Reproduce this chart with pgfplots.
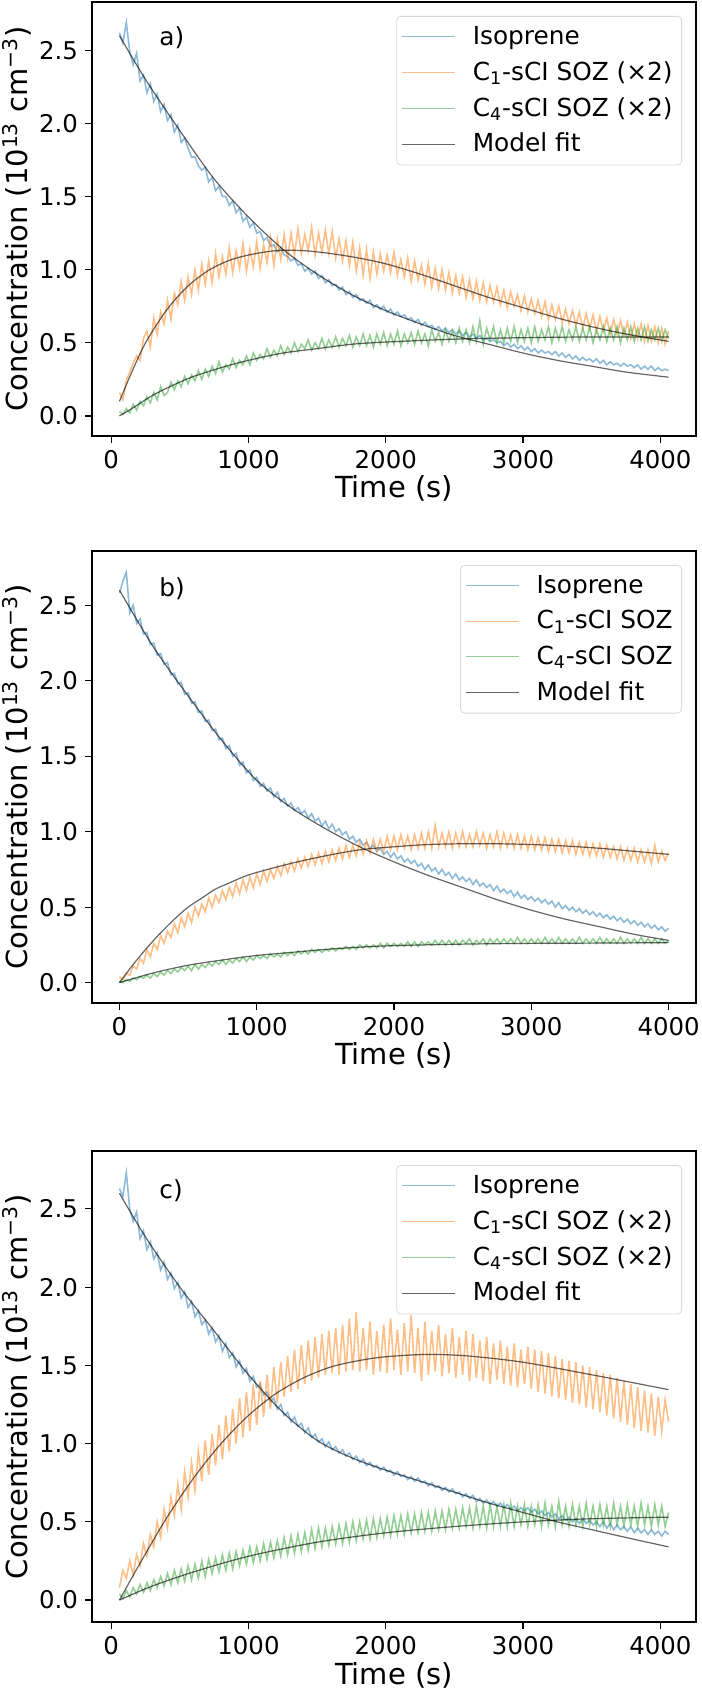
\documentclass[border=0pt]{standalone}
\usepackage{fontspec}
\setmainfont{DejaVu Sans}
\usepackage{pgfplots}
\usepackage{pgfplotstable}
\pgfplotsset{compat=1.18}

\definecolor{tabblue}{RGB}{31,119,180}
\definecolor{taborange}{RGB}{255,127,14}
\definecolor{tabgreen}{RGB}{44,160,44}

% Measured concentrations (1e13 cm^-3); SOZ columns already scaled as labelled
\pgfplotstableread{
t iso cone cfour
60 2.62 0.16 0.03
85 2.55 0.11 0.01
110 2.69 0.24 0.05
135 2.49 0.30 0.02
160 2.40 0.36 0.08
185 2.48 0.41 0.04
210 2.29 0.38 0.10
235 2.33 0.53 0.07
260 2.21 0.58 0.13
285 2.27 0.47 0.09
310 2.15 0.67 0.16
335 2.20 0.56 0.11
360 2.08 0.71 0.20
385 2.13 0.63 0.14
410 2.02 0.79 0.16
435 2.06 0.66 0.23
460 1.94 0.84 0.18
485 1.99 0.76 0.24
510 1.87 0.92 0.20
535 1.90 0.79 0.27
560 1.83 0.95 0.22
585 1.77 0.83 0.28
610 1.77 1.00 0.24
635 1.71 0.86 0.31
660 1.68 1.04 0.25
685 1.70 0.90 0.32
710 1.60 1.06 0.27
735 1.63 0.91 0.34
760 1.54 1.11 0.29
785 1.57 0.95 0.37
810 1.50 1.09 0.30
835 1.50 0.97 0.35
860 1.44 1.15 0.32
885 1.47 0.98 0.39
910 1.39 1.13 0.33
935 1.42 1.01 0.38
960 1.33 1.18 0.35
985 1.36 0.99 0.41
1010 1.29 1.14 0.35
1035 1.32 1.02 0.43
1060 1.25 1.19 0.38
1085 1.26 1.01 0.42
1110 1.20 1.17 0.39
1135 1.22 1.05 0.46
1160 1.16 1.22 0.40
1185 1.17 1.03 0.45
1210 1.12 1.21 0.41
1235 1.15 1.07 0.48
1260 1.10 1.24 0.42
1285 1.09 1.08 0.47
1310 1.06 1.25 0.43
1335 1.08 1.10 0.50
1360 1.03 1.28 0.44
1385 1.04 1.11 0.49
1410 0.99 1.24 0.46
1435 1.01 1.13 0.52
1460 0.97 1.29 0.45
1485 0.99 1.10 0.50
1510 0.94 1.25 0.46
1535 0.96 1.12 0.53
1560 0.91 1.27 0.46
1585 0.93 1.11 0.52
1610 0.89 1.26 0.47
1635 0.90 1.08 0.54
1660 0.86 1.21 0.47
1685 0.88 1.06 0.53
1710 0.83 1.20 0.48
1735 0.85 1.03 0.55
1760 0.81 1.19 0.47
1785 0.83 0.99 0.54
1810 0.79 1.15 0.48
1835 0.80 0.96 0.56
1860 0.77 1.14 0.48
1885 0.79 0.94 0.55
1910 0.74 1.12 0.47
1935 0.76 0.97 0.56
1960 0.73 1.11 0.49
1985 0.75 0.99 0.57
2010 0.71 1.10 0.48
2035 0.73 0.98 0.56
2060 0.69 1.12 0.49
2085 0.71 0.96 0.58
2110 0.68 1.07 0.48
2135 0.69 0.95 0.56
2160 0.66 1.08 0.50
2185 0.67 0.92 0.57
2210 0.64 1.06 0.49
2235 0.66 0.93 0.58
2260 0.62 1.03 0.50
2285 0.64 0.90 0.56
2310 0.61 1.04 0.48
2335 0.62 0.88 0.59
2360 0.59 1.01 0.51
2385 0.61 0.87 0.57
2410 0.58 1.00 0.49
2435 0.60 0.86 0.59
2460 0.57 0.98 0.51
2485 0.59 0.84 0.58
2510 0.56 0.96 0.50
2535 0.58 0.84 0.60
2560 0.55 0.95 0.51
2585 0.57 0.81 0.59
2610 0.54 0.93 0.50
2635 0.56 0.80 0.61
2660 0.53 0.92 0.51
2685 0.55 0.79 0.65
2710 0.52 0.91 0.49
2735 0.53 0.78 0.60
2760 0.51 0.89 0.52
2785 0.52 0.78 0.61
2810 0.50 0.88 0.50
2835 0.51 0.76 0.59
2860 0.48 0.86 0.50
2885 0.50 0.74 0.60
2910 0.47 0.85 0.51
2935 0.49 0.75 0.61
2960 0.46 0.83 0.50
2985 0.48 0.72 0.59
3010 0.45 0.82 0.51
3035 0.47 0.71 0.60
3060 0.44 0.80 0.50
3085 0.46 0.70 0.61
3110 0.43 0.79 0.51
3135 0.45 0.68 0.59
3160 0.43 0.78 0.52
3185 0.44 0.66 0.61
3210 0.42 0.76 0.50
3235 0.44 0.66 0.60
3260 0.41 0.75 0.52
3285 0.43 0.64 0.61
3310 0.40 0.73 0.51
3335 0.42 0.63 0.59
3360 0.39 0.72 0.52
3385 0.41 0.62 0.61
3410 0.38 0.71 0.51
3435 0.40 0.60 0.60
3460 0.38 0.70 0.52
3485 0.39 0.60 0.61
3510 0.37 0.69 0.50
3535 0.39 0.58 0.59
3560 0.36 0.68 0.52
3585 0.38 0.58 0.61
3610 0.35 0.67 0.51
3635 0.37 0.56 0.60
3660 0.35 0.66 0.52
3685 0.36 0.56 0.61
3710 0.34 0.65 0.50
3735 0.36 0.55 0.60
3760 0.34 0.64 0.52
3785 0.35 0.53 0.61
3810 0.33 0.63 0.51
3835 0.35 0.53 0.60
3860 0.32 0.63 0.52
3885 0.34 0.51 0.61
3910 0.32 0.62 0.51
3935 0.34 0.51 0.59
3960 0.31 0.61 0.52
3985 0.33 0.50 0.60
4010 0.31 0.60 0.51
4035 0.32 0.49 0.59
4060 0.31 0.58 0.53
}\dataA

\pgfplotstableread{
t iso cone cfour
0 2.58 0.04 0.01
25 2.66 0.02 0.00
50 2.72 0.06 0.02
75 2.45 0.05 0.01
100 2.50 0.11 0.03
125 2.38 0.09 0.02
150 2.41 0.16 0.04
175 2.31 0.13 0.03
200 2.32 0.22 0.05
225 2.24 0.17 0.03
250 2.25 0.26 0.06
275 2.17 0.22 0.04
300 2.18 0.31 0.07
325 2.11 0.26 0.05
350 2.12 0.34 0.08
375 2.04 0.30 0.06
400 2.05 0.39 0.09
425 1.98 0.33 0.07
450 1.99 0.43 0.10
475 1.91 0.37 0.08
500 1.92 0.46 0.11
525 1.85 0.40 0.08
550 1.86 0.50 0.12
575 1.79 0.44 0.09
600 1.80 0.52 0.12
625 1.73 0.47 0.10
650 1.74 0.56 0.13
675 1.67 0.50 0.11
700 1.68 0.58 0.14
725 1.61 0.53 0.12
750 1.62 0.61 0.15
775 1.55 0.55 0.12
800 1.57 0.63 0.15
825 1.50 0.57 0.13
850 1.52 0.66 0.16
875 1.44 0.59 0.14
900 1.46 0.68 0.17
925 1.39 0.61 0.14
950 1.41 0.70 0.17
975 1.34 0.63 0.15
1000 1.36 0.72 0.18
1025 1.30 0.65 0.16
1050 1.32 0.74 0.18
1075 1.27 0.67 0.16
1100 1.29 0.75 0.19
1125 1.23 0.69 0.17
1150 1.26 0.77 0.19
1175 1.20 0.71 0.17
1200 1.22 0.79 0.20
1225 1.17 0.73 0.18
1250 1.19 0.80 0.20
1275 1.14 0.74 0.18
1300 1.16 0.82 0.21
1325 1.12 0.76 0.19
1350 1.14 0.83 0.21
1375 1.09 0.77 0.19
1400 1.12 0.85 0.22
1425 1.07 0.78 0.20
1450 1.09 0.86 0.22
1475 1.04 0.79 0.20
1500 1.07 0.87 0.22
1525 1.02 0.80 0.21
1550 1.05 0.88 0.23
1575 1.00 0.81 0.21
1600 1.02 0.89 0.23
1625 0.98 0.82 0.22
1650 1.00 0.91 0.24
1675 0.95 0.83 0.22
1700 0.97 0.91 0.24
1725 0.93 0.84 0.22
1750 0.95 0.93 0.25
1775 0.91 0.85 0.23
1800 0.93 0.94 0.25
1825 0.89 0.86 0.23
1850 0.91 0.95 0.25
1875 0.87 0.87 0.23
1900 0.89 0.95 0.26
1925 0.85 0.87 0.23
1950 0.87 0.97 0.26
1975 0.83 0.88 0.24
2000 0.86 0.97 0.26
2025 0.82 0.88 0.24
2050 0.84 0.98 0.26
2075 0.80 0.89 0.24
2100 0.82 0.97 0.27
2125 0.79 0.88 0.24
2150 0.81 0.98 0.27
2175 0.77 0.89 0.24
2200 0.79 0.99 0.27
2225 0.75 0.89 0.25
2250 0.78 1.00 0.27
2275 0.74 0.89 0.25
2300 0.76 1.04 0.28
2325 0.72 0.90 0.25
2350 0.75 0.99 0.28
2375 0.71 0.90 0.25
2400 0.73 1.00 0.28
2425 0.69 0.89 0.25
2450 0.72 0.99 0.28
2475 0.68 0.90 0.25
2500 0.70 1.00 0.28
2525 0.67 0.90 0.26
2550 0.69 0.98 0.29
2575 0.65 0.90 0.25
2600 0.68 1.00 0.28
2625 0.64 0.91 0.26
2650 0.66 0.99 0.29
2675 0.63 0.89 0.25
2700 0.65 0.98 0.29
2725 0.61 0.90 0.26
2750 0.64 1.00 0.29
2775 0.60 0.89 0.26
2800 0.62 0.99 0.29
2825 0.59 0.90 0.26
2850 0.61 0.98 0.29
2875 0.57 0.89 0.26
2900 0.60 0.98 0.30
2925 0.56 0.89 0.26
2950 0.58 0.97 0.29
2975 0.55 0.88 0.26
3000 0.57 0.97 0.29
3025 0.54 0.88 0.26
3050 0.56 0.96 0.29
3075 0.53 0.88 0.26
3100 0.55 0.96 0.30
3125 0.52 0.87 0.26
3150 0.54 0.95 0.29
3175 0.50 0.87 0.26
3200 0.53 0.95 0.30
3225 0.49 0.86 0.26
3250 0.51 0.94 0.29
3275 0.48 0.86 0.26
3300 0.50 0.94 0.29
3325 0.47 0.85 0.26
3350 0.49 0.93 0.30
3375 0.46 0.85 0.26
3400 0.48 0.93 0.29
3425 0.45 0.84 0.26
3450 0.47 0.92 0.29
3475 0.44 0.84 0.26
3500 0.46 0.92 0.30
3525 0.43 0.83 0.26
3550 0.45 0.91 0.29
3575 0.42 0.83 0.26
3600 0.44 0.90 0.29
3625 0.41 0.82 0.26
3650 0.43 0.90 0.30
3675 0.40 0.81 0.26
3700 0.42 0.89 0.29
3725 0.39 0.81 0.26
3750 0.41 0.89 0.29
3775 0.38 0.80 0.26
3800 0.40 0.88 0.30
3825 0.37 0.80 0.26
3850 0.39 0.88 0.29
3875 0.36 0.79 0.26
3900 0.38 0.91 0.29
3925 0.35 0.80 0.26
3950 0.37 0.87 0.29
3975 0.34 0.81 0.26
4000 0.36 0.86 0.28
}\dataB

\pgfplotstableread{
t iso cone cfour
60 2.63 0.08 0.04
85 2.58 0.19 0.01
110 2.73 0.14 0.06
135 2.50 0.25 0.02
160 2.42 0.16 0.08
185 2.48 0.29 0.04
210 2.31 0.22 0.10
235 2.36 0.36 0.05
260 2.24 0.28 0.11
285 2.29 0.42 0.06
310 2.18 0.34 0.13
335 2.22 0.50 0.08
360 2.11 0.40 0.15
385 2.16 0.58 0.09
410 2.05 0.46 0.17
435 2.09 0.66 0.10
460 1.99 0.54 0.19
485 2.03 0.74 0.11
510 1.93 0.58 0.20
535 1.97 0.82 0.12
560 1.87 0.66 0.22
585 1.91 0.88 0.13
610 1.81 0.70 0.23
635 1.85 0.95 0.14
660 1.76 0.76 0.25
685 1.79 1.02 0.15
710 1.70 0.80 0.26
735 1.74 1.06 0.17
760 1.65 0.86 0.27
785 1.69 1.12 0.18
810 1.59 0.90 0.29
835 1.64 1.18 0.19
860 1.55 0.95 0.30
885 1.58 1.22 0.20
910 1.49 1.00 0.31
935 1.53 1.29 0.22
960 1.45 1.04 0.32
985 1.48 1.33 0.23
1010 1.40 1.08 0.34
1035 1.43 1.38 0.24
1060 1.36 1.12 0.34
1085 1.38 1.40 0.25
1110 1.31 1.17 0.36
1135 1.33 1.44 0.26
1160 1.27 1.22 0.37
1185 1.29 1.49 0.27
1210 1.22 1.26 0.38
1235 1.25 1.52 0.28
1260 1.18 1.30 0.40
1285 1.20 1.56 0.29
1310 1.14 1.33 0.41
1335 1.17 1.60 0.30
1360 1.11 1.35 0.42
1385 1.13 1.63 0.31
1410 1.07 1.38 0.43
1435 1.10 1.66 0.32
1460 1.04 1.40 0.45
1485 1.06 1.68 0.33
1510 1.01 1.42 0.46
1535 1.03 1.70 0.34
1560 0.98 1.44 0.46
1585 1.01 1.72 0.35
1610 0.96 1.45 0.47
1635 0.98 1.74 0.36
1660 0.94 1.44 0.48
1685 0.96 1.76 0.36
1710 0.92 1.46 0.49
1735 0.94 1.80 0.37
1760 0.90 1.47 0.50
1785 0.92 1.84 0.38
1810 0.88 1.46 0.50
1835 0.90 1.74 0.39
1860 0.86 1.47 0.51
1885 0.88 1.78 0.39
1910 0.85 1.44 0.52
1935 0.86 1.72 0.40
1960 0.83 1.46 0.52
1985 0.85 1.76 0.41
2010 0.82 1.45 0.53
2035 0.83 1.80 0.41
2060 0.80 1.47 0.54
2085 0.82 1.73 0.42
2110 0.79 1.44 0.54
2135 0.80 1.77 0.42
2160 0.77 1.46 0.55
2185 0.79 1.82 0.43
2210 0.76 1.45 0.55
2235 0.78 1.74 0.43
2260 0.75 1.40 0.56
2285 0.76 1.78 0.44
2310 0.73 1.44 0.56
2335 0.75 1.72 0.44
2360 0.72 1.46 0.57
2385 0.73 1.76 0.45
2410 0.70 1.43 0.57
2435 0.72 1.70 0.45
2460 0.69 1.45 0.58
2485 0.71 1.74 0.46
2510 0.68 1.42 0.58
2535 0.69 1.68 0.46
2560 0.66 1.44 0.59
2585 0.68 1.72 0.47
2610 0.65 1.40 0.59
2635 0.67 1.70 0.46
2660 0.63 1.42 0.60
2685 0.65 1.66 0.47
2710 0.62 1.40 0.60
2735 0.64 1.68 0.46
2760 0.61 1.38 0.61
2785 0.63 1.64 0.47
2810 0.60 1.41 0.60
2835 0.62 1.66 0.47
2860 0.59 1.38 0.61
2885 0.61 1.62 0.47
2910 0.58 1.37 0.62
2935 0.60 1.64 0.47
2960 0.57 1.36 0.60
2985 0.59 1.60 0.48
3010 0.57 1.38 0.61
3035 0.59 1.62 0.47
3060 0.56 1.35 0.60
3085 0.58 1.60 0.48
3110 0.55 1.33 0.61
3135 0.57 1.59 0.47
3160 0.54 1.32 0.62
3185 0.56 1.58 0.48
3210 0.53 1.30 0.60
3235 0.55 1.56 0.47
3260 0.52 1.29 0.63
3285 0.54 1.54 0.48
3310 0.51 1.28 0.60
3335 0.53 1.53 0.47
3360 0.50 1.26 0.61
3385 0.52 1.52 0.48
3410 0.49 1.25 0.60
3435 0.52 1.50 0.47
3460 0.49 1.23 0.62
3485 0.51 1.49 0.48
3510 0.48 1.22 0.60
3535 0.50 1.47 0.47
3560 0.47 1.20 0.61
3585 0.50 1.45 0.48
3610 0.46 1.18 0.60
3635 0.49 1.44 0.47
3660 0.45 1.16 0.62
3685 0.48 1.42 0.48
3710 0.45 1.14 0.60
3735 0.47 1.40 0.47
3760 0.44 1.12 0.61
3785 0.47 1.38 0.48
3810 0.43 1.10 0.60
3835 0.46 1.36 0.47
3860 0.43 1.08 0.62
3885 0.45 1.34 0.48
3910 0.42 1.07 0.60
3935 0.45 1.32 0.47
3960 0.42 1.05 0.61
3985 0.44 1.30 0.48
4010 0.41 1.08 0.60
4035 0.44 1.28 0.47
4060 0.42 1.14 0.56
}\dataC

\pgfplotsset{
  panel/.style={
    scale only axis, width=302pt,
    axis line style={line width=0.7pt},
    tick pos=left, tick align=outside,
    major tick length=3.5pt,
    every tick/.style={black, line width=0.6pt},
    xtick={0,1000,2000,3000,4000},
    ytick={0,0.5,1,1.5,2,2.5},
    /pgf/number format/assume math mode=true,
    x tick label style={/pgf/number format/1000 sep={}},
    y tick label style={/pgf/number format/fixed, /pgf/number format/fixed zerofill, /pgf/number format/precision=1},
    tick label style={font=\fontsize{12.2}{14}\selectfont},
    xlabel={Time (s)},
    ylabel={Concentration (10\textsuperscript{13} cm\textsuperscript{−3})},
    label style={font=\fontsize{14.5}{17}\selectfont},
    xlabel style={at={(axis description cs:0.5,0)}, anchor=base, yshift=-31pt},
    ylabel style={at={(axis description cs:-0.106,0.5)}, anchor=base},
    legend cell align=left,
    legend image code/.code={\draw[##1, line width=0.5pt] (0pt,0pt) -- (26.5pt,0pt);},
    legend style={at={(rel axis cs:1,1)}, anchor=north east,
      xshift=-7pt, yshift=-7pt,
      draw=black!15, rounded corners=2pt,
      fill=white, fill opacity=0.8, draw opacity=1, text opacity=1,
      font=\fontsize{12.4}{14}\selectfont,
      inner xsep=2.5pt, inner ysep=3pt, row sep=3pt,
      nodes={inner sep=2pt},
      /tikz/every odd column/.append style={column sep=6.5pt}},
  },
  isodata/.style={tabblue, opacity=0.5, line width=0.8pt},
  c1data/.style={taborange, opacity=0.5, line width=0.8pt},
  c4data/.style={tabgreen, opacity=0.5, line width=0.8pt},
  fit/.style={black, opacity=0.6, line width=0.6pt, smooth},
}

\begin{document}
\begin{tikzpicture}
\useasboundingbox (0,0) rectangle (350.5pt,845pt);

% ---------- a) ----------
\begin{axis}[panel, height=217pt, at={(46pt,627pt)}, anchor=south west,
  xmin=-140, xmax=4260, ymin=-0.137, ymax=2.83]
\addplot[isodata] table[x=t, y=iso] {\dataA};
\addlegendentry{Isoprene}
\addplot[c1data] table[x=t, y=cone] {\dataA};
\addlegendentry{C\textsubscript{1}-sCI SOZ (×2)}
\addplot[c4data] table[x=t, y=cfour] {\dataA};
\addlegendentry{C\textsubscript{4}-sCI SOZ (×2)}
\addplot[fit] coordinates {(60,2.60)(250,2.30)(500,1.95)(750,1.62)(1000,1.36)(1250,1.14)(1500,0.97)(1750,0.83)(2000,0.72)(2250,0.63)(2500,0.55)(2750,0.49)(3000,0.43)(3250,0.38)(3500,0.34)(3750,0.30)(4060,0.265)};
\addlegendentry{Model fit}
\addplot[fit, forget plot] coordinates {(60,0.10)(150,0.30)(250,0.50)(400,0.72)(550,0.88)(700,0.99)(850,1.06)(1000,1.10)(1200,1.13)(1400,1.13)(1600,1.11)(1800,1.08)(2000,1.04)(2250,0.97)(2500,0.89)(2750,0.81)(3000,0.74)(3250,0.67)(3500,0.61)(3750,0.56)(4060,0.51)};
\addplot[fit, forget plot] coordinates {(60,0.0)(150,0.05)(300,0.14)(450,0.21)(600,0.27)(800,0.33)(1000,0.38)(1250,0.43)(1500,0.46)(1750,0.49)(2000,0.505)(2500,0.525)(3000,0.535)(3500,0.54)(4060,0.54)};
\node[anchor=base west, font=\fontsize{12.4}{14}\selectfont] at (rel axis cs:0.1,0.9) {a)};
\end{axis}

% ---------- b) ----------
\begin{axis}[panel, height=226pt, at={(46pt,343.5pt)}, anchor=south west,
  xmin=-200, xmax=4200, ymin=-0.135, ymax=2.86]
\addplot[isodata] table[x=t, y=iso] {\dataB};
\addlegendentry{Isoprene}
\addplot[c1data] table[x=t, y=cone] {\dataB};
\addlegendentry{C\textsubscript{1}-sCI SOZ}
\addplot[c4data] table[x=t, y=cfour] {\dataB};
\addlegendentry{C\textsubscript{4}-sCI SOZ}
\addplot[fit] coordinates {(0,2.60)(250,2.22)(500,1.90)(750,1.60)(1000,1.34)(1250,1.16)(1500,1.02)(1750,0.90)(2000,0.80)(2250,0.71)(2500,0.63)(2750,0.55)(3000,0.48)(3250,0.42)(3500,0.37)(3750,0.32)(4000,0.28)};
\addlegendentry{Model fit}
\addplot[fit, forget plot] coordinates {(0,0)(100,0.12)(200,0.23)(300,0.33)(400,0.42)(500,0.50)(600,0.56)(700,0.62)(800,0.66)(900,0.70)(1000,0.73)(1250,0.79)(1500,0.84)(1750,0.88)(2000,0.90)(2250,0.915)(2500,0.92)(2750,0.92)(3000,0.915)(3250,0.905)(3500,0.89)(3750,0.87)(4000,0.85)};
\addplot[fit, forget plot] coordinates {(0,0)(250,0.065)(500,0.115)(750,0.15)(1000,0.18)(1250,0.20)(1500,0.22)(1750,0.235)(2000,0.245)(2500,0.255)(3000,0.26)(3500,0.262)(4000,0.265)};
\node[anchor=base west, font=\fontsize{12.4}{14}\selectfont] at (rel axis cs:0.1,0.9) {b)};
\end{axis}

% ---------- c) ----------
\begin{axis}[panel, height=235.5pt, at={(46pt,34pt)}, anchor=south west,
  xmin=-140, xmax=4260, ymin=-0.14, ymax=2.87]
\addplot[isodata] table[x=t, y=iso] {\dataC};
\addlegendentry{Isoprene}
\addplot[c1data] table[x=t, y=cone] {\dataC};
\addlegendentry{C\textsubscript{1}-sCI SOZ (×2)}
\addplot[c4data] table[x=t, y=cfour] {\dataC};
\addlegendentry{C\textsubscript{4}-sCI SOZ (×2)}
\addplot[fit] coordinates {(60,2.60)(250,2.32)(500,2.00)(750,1.72)(1000,1.44)(1250,1.20)(1500,1.02)(1750,0.91)(2000,0.83)(2250,0.76)(2500,0.69)(2750,0.62)(3000,0.56)(3250,0.50)(3500,0.45)(3750,0.40)(4060,0.34)};
\addlegendentry{Model fit}
\addplot[fit, forget plot] coordinates {(60,0)(200,0.22)(400,0.52)(600,0.78)(800,1.00)(1000,1.18)(1200,1.32)(1400,1.42)(1600,1.49)(1800,1.53)(2000,1.555)(2300,1.57)(2600,1.56)(3000,1.52)(3500,1.44)(4060,1.345)};
\addplot[fit, forget plot] coordinates {(60,0)(300,0.09)(600,0.18)(1000,0.28)(1500,0.37)(2000,0.43)(2500,0.47)(3000,0.50)(3500,0.52)(4060,0.53)};
\node[anchor=base west, font=\fontsize{12.4}{14}\selectfont] at (rel axis cs:0.1,0.9) {c)};
\end{axis}
\end{tikzpicture}
\end{document}
